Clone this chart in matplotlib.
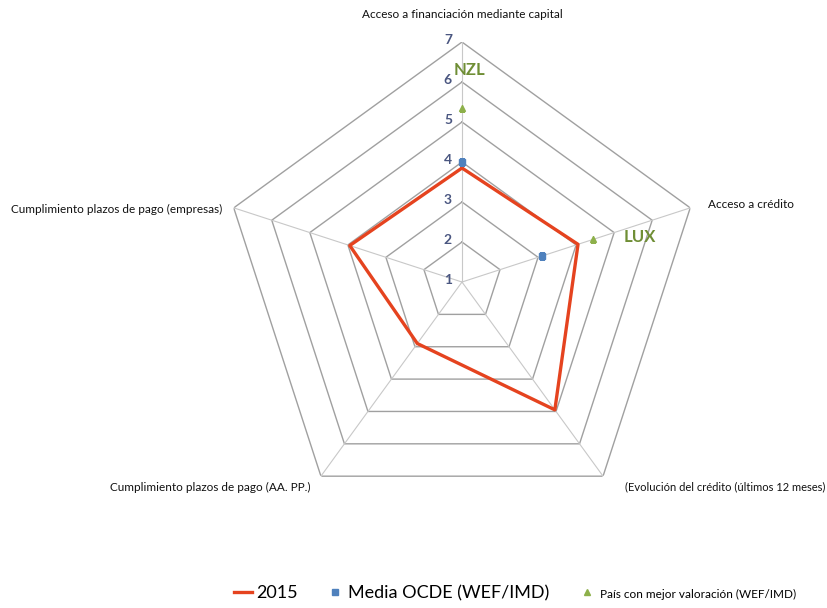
import numpy as np
import matplotlib.pyplot as plt
from matplotlib.lines import Line2D

plt.rcParams['font.family'] = ['Lato', 'DejaVu Sans']

categories = [
    'Acceso a financiación mediante capital',
    'Acceso a crédito',
    '(Evolución del crédito (últimos 12 meses)',
    'Cumplimiento plazos de pago (AA. PP.)',
    'Cumplimiento plazos de pago (empresas)',
]
valores_2015 = [3.85, 4.05, 4.95, 2.9, 3.95]
media_ocde = [4.0, 3.1, np.nan, np.nan, np.nan]
mejor_pais = [5.35, 4.45, np.nan, np.nan, np.nan]
mejor_pais_etiqueta = ['NZL', 'LUX', '', '', '']
niveles = [1, 2, 3, 4, 5, 6, 7]

ROJO = '#E5431F'
AZUL = '#4F81BD'
VERDE = '#8DB04A'
VERDE_TXT = '#6F8E35'

n = len(categories)
angulos = np.linspace(0, 2 * np.pi, n, endpoint=False)
cerrado = np.append(angulos, angulos[0])

fig = plt.figure(figsize=(8.28, 6.08), dpi=100)
ax = fig.add_axes([0.2681, 0.1414, 0.5797, 0.7895], projection='polar')
ax.set_theta_offset(np.pi / 2)
ax.set_theta_direction(-1)
ax.set_ylim(1, 7)
ax.grid(False)
ax.spines['polar'].set_visible(False)
ax.set_xticks([])
ax.set_yticks([])
ax.patch.set_alpha(0)

# pentagonal rings and spokes
for v in niveles[1:]:
    ax.plot(cerrado, [v] * (n + 1), color='#A0A0A0', lw=1.0, zorder=1)
for a in angulos:
    ax.plot([a, a], [1, 7], color='#C8C8C8', lw=0.8, zorder=1)

# value labels along the top spoke
for v in niveles:
    ax.annotate(str(v), xy=(0, v), xytext=(-10, 2), textcoords='offset pixels',
                ha='right', va='center', fontsize=10, fontweight='bold',
                color='#4A5680')

# category names
desplaz = [(0, 28), (18, 3), (222, -11), (-10, -11), (-11, -2)]
alin = ['center', 'left', 'right', 'right', 'right']
tamanos = [8.5, 8.5, 8, 8.5, 8.5]
for a, nombre, d, h, t in zip(angulos, categories, desplaz, alin, tamanos):
    ax.annotate(nombre, xy=(a, 7), xytext=d, textcoords='offset pixels',
                ha=h, va='center', fontsize=t, color='#111111')

# series
ax.plot(cerrado, valores_2015 + valores_2015[:1], color=ROJO, lw=2.4, zorder=3)
ax.plot(angulos, media_ocde, ls='none', marker='s', ms=4, color=AZUL, zorder=4)
ax.plot(angulos, mejor_pais, ls='none', marker='^', ms=4, color=VERDE, zorder=4)

etiq_desplaz = [(8, 38), (47, 2)]
for a, v, et, d in zip(angulos, mejor_pais, mejor_pais_etiqueta, etiq_desplaz):
    ax.annotate(et, xy=(a, v), xytext=d, textcoords='offset pixels',
                ha='center', va='center', fontsize=12, fontweight='bold',
                color=VERDE_TXT)

handles = [
    Line2D([], [], color=ROJO, lw=2.4),
    Line2D([], [], ls='none', marker='s', ms=4, color=AZUL),
    Line2D([], [], ls='none', marker='^', ms=4, color=VERDE),
]
labels = ['2015', 'Media OCDE (WEF/IMD)', 'País con mejor valoración (WEF/IMD)']
leg = fig.legend(handles, labels, loc='center', bbox_to_anchor=(0.622, 0.024),
                 ncol=3, frameon=False, fontsize=13, handlelength=1.0,
                 handletextpad=0.2, columnspacing=1.6)
leg.get_texts()[2].set_fontsize(8.5)

fig.savefig('out.png', dpi=100, facecolor='white')
